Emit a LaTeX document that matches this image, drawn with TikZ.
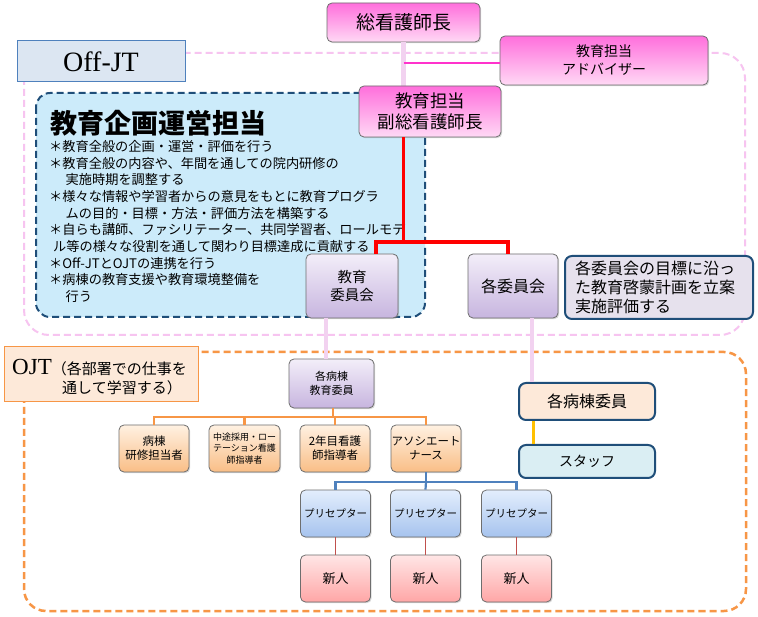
\documentclass[tikz,border=0pt]{standalone}
\usepackage{fontspec}
\setmainfont{Noto Sans CJK JP}
\newfontfamily\serifen{Liberation Serif}
\usetikzlibrary{shadows}
\definecolor{pinkA}{HTML}{FF6FDC}
\definecolor{pinkB}{HTML}{FFD9F5}
\definecolor{lavA}{HTML}{F3EEF9}
\definecolor{lavB}{HTML}{C7B5DF}
\definecolor{orA}{HTML}{FFF1E2}
\definecolor{orB}{HTML}{F9BE86}
\definecolor{blA}{HTML}{E3EEFD}
\definecolor{blB}{HTML}{A6C3EE}
\definecolor{rdA}{HTML}{FFE6E6}
\definecolor{rdB}{HTML}{FFA6A6}
\definecolor{boxgrey}{HTML}{6E6E6E}
\definecolor{navy}{HTML}{1F4E79}
\definecolor{dashpink}{HTML}{F7C4F0}
\definecolor{dashorange}{HTML}{F79646}
\definecolor{lightblue}{HTML}{CCEBFA}
\definecolor{offfill}{HTML}{DCE6F2}
\definecolor{offline}{HTML}{4F81BD}
\definecolor{ojtfill}{HTML}{FDE9D9}
\definecolor{descfill}{HTML}{E6E1ED}
\definecolor{stafffill}{HTML}{DAEEF3}
\definecolor{connpink}{HTML}{F2D2F0}
\definecolor{magline}{HTML}{FF33CC}
\definecolor{thinred}{HTML}{C0504D}
\definecolor{yel}{HTML}{FFC000}
\newcommand{\fs}[2]{\fontsize{#1}{#2}\selectfont}
\tikzset{
  gbox/.style={draw=boxgrey, line width=0.8pt, rounded corners=5pt, inner sep=0pt, align=center,
    drop shadow={shadow xshift=1.2pt, shadow yshift=-1.2pt, opacity=0.3}},
  pinkbox/.style={gbox, top color=pinkA, bottom color=pinkB},
  lavbox/.style={gbox, top color=lavA, bottom color=lavB},
  orbox/.style={gbox, top color=orA, bottom color=orB},
  blbox/.style={gbox, top color=blA, bottom color=blB},
  rdbox/.style={gbox, top color=rdA, bottom color=rdB},
  navybox/.style={draw=navy, line width=2pt, rounded corners=7pt, inner sep=0pt, align=center},
  pinkconn/.style={draw=connpink, line width=5pt},
  magconn/.style={draw=magline, line width=2pt},
  redconn/.style={draw=red, line width=3.5pt},
  orconn/.style={draw=dashorange, line width=2.2pt},
  blconn/.style={draw=offline, line width=2.2pt},
  thinredconn/.style={draw=thinred, line width=1.8pt},
  yelconn/.style={draw=yel, line width=3pt},
}
\begin{document}
\begin{tikzpicture}[x=1pt, y=-1pt]
\useasboundingbox[fill=white] (0,0) rectangle (758,617);
% regions
\draw[dashpink, line width=2pt, dash pattern=on 7pt off 4pt, rounded corners=25pt] (24,53) rectangle (745,335);
\draw[dashorange, line width=2.5pt, dash pattern=on 7pt off 4pt, rounded corners=22pt] (24,352) rectangle (746,611);
% Off-JT label
\node[draw=offline, fill=offfill, line width=1pt, minimum width=168pt, minimum height=41pt, inner sep=0pt, font=\serifen\fs{28}{30}] (offjt) at (101,61.5) {Off-JT};
% blue dashed planning box
\draw[navy, fill=lightblue, line width=2pt, dash pattern=on 7pt off 4pt, rounded corners=14pt] (36,93) rectangle (425,317);
\node[anchor=west, inner sep=0pt, font=\fs{27}{30}\bfseries] (title) at (50,123) {教育企画運営担当};
\node[anchor=north west, inner sep=0pt, align=left, font=\fs{13.2}{16.7}] (bul) at (49,140) {%
＊教育全般の企画・運営・評価を行う\\
＊教育全般の内容や、年間を通しての院内研修の\\
\hspace*{1.25em}実施時期を調整する\\
＊様々な情報や学習者からの意見をもとに教育プログラ\\
\hspace*{1.25em}ムの目的・目標・方法・評価方法を構築する\\
＊自らも講師、ファシリテーター、共同学習者、ロールモデ\\
\hspace*{0.3em}ル等の様々な役割を通して関わり目標達成に貢献する\\
＊Off-JTとOJTの連携を行う\\
＊病棟の教育支援や教育環境整備を\\
\hspace*{1.25em}行う};
% OJT label
\node[draw=dashorange, fill=ojtfill, line width=1pt, minimum width=194pt, minimum height=55pt, inner sep=0pt] (ojt) at (101,374.5) {};
\node[anchor=base west, inner sep=0pt] (ojt1) at (12,375) {\serifen\fs{23}{24}OJT\fs{15}{18}\rmfamily（各部署での仕事を};
\node[anchor=base west, inner sep=0pt, font=\fs{15}{18}] (ojt2) at (62,394) {通して学習する）};
% top boxes
\node[pinkbox, minimum width=153pt, minimum height=39pt, font=\fs{19}{22}] (sou) at (403.5,22.5) {総看護師長};
\node[pinkbox, minimum width=208pt, minimum height=49pt, font=\fs{14}{18}] (adv) at (604,60.5) {教育担当\\アドバイザー};
\coordinate (magj) at (403.5,63);
\draw[pinkconn] (sou.south) -- (sou.south |- 0,86);
\draw[magconn] (magj) -- (magj -| adv.west);
\node[pinkbox, minimum width=142pt, minimum height=51pt, font=\fs{17.5}{21}] (fuku) at (430,111.5) {教育担当\\副総看護師長};
% committees
\node[lavbox, minimum width=92pt, minimum height=64pt, font=\fs{14.5}{18}] (kyoiku) at (352,286) {教育\\委員会};
\node[lavbox, minimum width=90pt, minimum height=64pt, font=\fs{16}{19}] (kaku) at (513,286) {各委員会};
\coordinate (rj) at (403.5,242);
\draw[redconn] (sou.south |- fuku.south) -- (rj);
\draw[redconn] ([xshift=24pt]kyoiku.north) |- ([xshift=-5pt]kaku.north |- rj) -- ([xshift=-5pt]kaku.north);
\node[navybox, fill=descfill, minimum width=188pt, minimum height=63pt] (desc) at (659,287.5) {};
\node[anchor=west, inner sep=0pt, align=left, font=\fs{16}{19}] (desctext) at (575,287.5) {各委員会の目標に沿っ\\た教育啓蒙計画を立案\\実施評価する};
% ward level
\node[lavbox, minimum width=85pt, minimum height=49pt, font=\fs{11}{13.5}] (bte) at (331.5,383.5) {各病棟\\教育委員};
\draw[pinkconn, line width=4pt] ([xshift=-26pt]kyoiku.south) -- ([xshift=-26pt]kyoiku.south |- bte.north);
\node[navybox, fill=ojtfill, minimum width=136pt, minimum height=37pt, font=\fs{16}{19}] (bi) at (587,401.5) {各病棟委員};
\node[navybox, fill=stafffill, minimum width=136pt, minimum height=33pt, font=\fs{14}{17}] (staff) at (587,461.5) {スタッフ};
\draw[pinkconn, line width=4pt] ([xshift=19pt]kaku.south) -- ([xshift=19pt]kaku.south |- bi.north);
\draw[yelconn] ([xshift=-54pt]bi.south) -- ([xshift=-54pt]staff.north);
% orange row
\node[orbox, minimum width=70pt, minimum height=47pt, font=\fs{11.5}{14}] (o1) at (154,448.5) {病棟\\研修担当者};
\node[orbox, minimum width=71pt, minimum height=47pt, font=\fs{9}{11.5}] (o2) at (244.5,448.5) {中途採用・ロー\\テーション看護\\師指導者};
\node[orbox, minimum width=70pt, minimum height=47pt, font=\fs{11.5}{14}] (o3) at (335,448.5) {2年目看護\\師指導者};
\node[orbox, minimum width=70pt, minimum height=47pt, font=\fs{11.5}{14}] (o4) at (426,448.5) {アソシエート\\ナース};
\coordinate (oj) at (333,417);
\draw[orconn] (bte.south -| oj) -- (oj);
\draw[orconn] (o1.north) |- (o4.north |- oj) -- (o4.north);
\draw[orconn] (o2.north) -- (o2.north |- oj);
\draw[orconn] (o3.north) -- (o3.north |- oj);
% preceptors
\node[blbox, minimum width=70pt, minimum height=47pt, font=\fs{10.5}{13}] (p1) at (335.5,513.5) {プリセプター};
\node[blbox, minimum width=70pt, minimum height=47pt, font=\fs{10.5}{13}] (p2) at (425.5,513.5) {プリセプター};
\node[blbox, minimum width=70pt, minimum height=47pt, font=\fs{10.5}{13}] (p3) at (516.5,513.5) {プリセプター};
\coordinate (bj) at (426,482);
\draw[blconn] (o4.south) -- (bj);
\draw[blconn] (p1.north) |- (p3.north |- bj) -- (p3.north);
\draw[blconn] (bj) -- (p2.north);
% newcomers
\node[rdbox, minimum width=70pt, minimum height=47pt, font=\fs{13}{16}] (n1) at (335.5,578.5) {新人};
\node[rdbox, minimum width=70pt, minimum height=47pt, font=\fs{13}{16}] (n2) at (425.5,578.5) {新人};
\node[rdbox, minimum width=70pt, minimum height=47pt, font=\fs{13}{16}] (n3) at (516.5,578.5) {新人};
\draw[thinredconn] (p1.south) -- (n1.north);
\draw[thinredconn] (p2.south) -- (n2.north);
\draw[thinredconn] (p3.south) -- (n3.north);
\end{tikzpicture}
\end{document}
